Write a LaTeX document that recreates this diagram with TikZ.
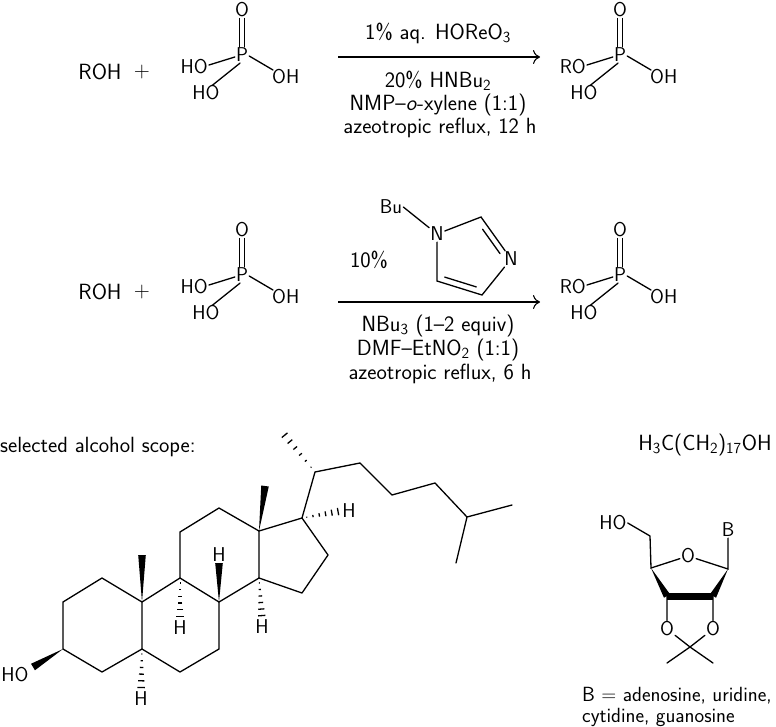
\documentclass[tikz,border=0pt]{standalone}
\usepackage{tikz}
\usetikzlibrary{calc,arrows.meta,positioning}
\renewcommand{\familydefault}{\sfdefault}

\tikzset{
  every node/.style={font=\fontsize{22}{26}\selectfont},
  atom/.style={inner sep=1pt,font=\fontsize{20}{24}\selectfont},
  bond/.style={line width=1.3pt,line cap=round},
  rxnarrow/.style={line width=1.1pt,-{To[length=7pt,width=14pt]}}
}
% wedge: narrow at #1, wide at #2
\newcommand{\wedgebond}[2]{%
  \fill ($(#1)$) -- ($(#2)!3.8pt!90:(#1)$) -- ($(#2)!3.8pt!-90:(#1)$) -- cycle;}
% hashed: narrow at #1, wide at #2
\newcommand{\hashbond}[2]{%
  \foreach \t in {0.12,0.28,...,1.0} {
    \pgfmathsetmacro{\hw}{4*\t}
    \coordinate (hp) at ($(#1)!\t!(#2)$);
    \draw[line width=1.3pt] ($(hp)!\hw pt!90:(#2)$) -- ($(hp)!\hw pt!-90:(#2)$);
  }}
% phosphoric acid / monoester
\newcommand{\phos}[3]{%
  \begin{scope}[shift={#2}]
    \node[atom] (#1P) at (0,0) {P};
    \node[atom] (#1O) at (0,-45) {O};
    \node[atom,anchor=east] (#1L) at (-33,12) {#3};
    \node[atom,anchor=west] (#1R) at (29,22) {OH};
    \node[atom] (#1B) at (-36,38) {HO};
    \draw[bond] ($(#1P.north)+(-2.5,0)$) -- ($(#1O.south)+(-2.5,0)$)
                ($(#1P.north)+(2.5,0)$) -- ($(#1O.south)+(2.5,0)$);
    \draw[bond] ($(#1P.west)+(0,2)$) -- ($(#1L.east)+(0,-2)$);
    \draw[bond] ($(#1P.east)+(0,1)$) -- ($(#1R.west)+(2,-7)$);
    \draw[bond] ($(#1P.south)+(-2,0)$) -- ($(#1B.north)+(6,1)$);
  \end{scope}}

\begin{document}
\begin{tikzpicture}[x=1pt,y=-1pt]
  \useasboundingbox (0,0) rectangle (776,726);

  % first reaction
  \node (roh1) at (100,72) {ROH};
  \node (plus1) at (142,72) {+};
  \phos{a}{(242,55)}{HO}
  \coordinate (s1) at (338,57);
  \coordinate (e1) at (540,57);
  \draw[rxnarrow] (s1) -- (e1);
  \node (c1a) at (438,33) {1\% aq. HOReO\textsubscript{3}};
  \node (c1b) at (438,81) {20\% HNBu\textsubscript{2}};
  \node (c1c) at (438,105) {NMP--\textsl{o}-xylene (1:1)};
  \node (c1d) at (440,128) {azeotropic reflux, 12 h};
  \phos{b}{(620,55)}{RO}

  % second reaction
  \node (roh2) at (100,292) {ROH};
  \node (plus2) at (142,292) {+};
  \phos{c}{(242,275)}{HO}
  \coordinate (s2) at (338,302);
  \coordinate (e2) at (540,302);
  \draw[rxnarrow] (s2) -- (e2);
  \node (cat) at (369,260) {10\%};
  \node[atom] (bu) at (391,207) {Bu};
  \node[atom] (n1) at (437,234) {N};
  \coordinate (c2) at (481,217);
  \node[atom] (n3) at (511,259) {N};
  \coordinate (c4) at (482,295);
  \coordinate (c5) at (437,281);
  \draw[bond] (bu.east) -- (n1) (n1) -- (c2) -- (n3) -- (c4) -- (c5) -- (n1);
  \draw[bond] ($(c2)!0.22!(n3)+(-5,3)$) -- ($(c2)!0.8!(n3)+(-5,3)$);
  \draw[bond] ($(c5)!0.15!(c4)+(1,-6)$) -- ($(c5)!0.85!(c4)+(1,-6)$);
  \node (c2a) at (438,326) {NBu\textsubscript{3} (1--2 equiv)};
  \node (c2b) at (438,350) {DMF--EtNO\textsubscript{2} (1:1)};
  \node (c2c) at (440,374) {azeotropic reflux, 6 h};
  \phos{d}{(620,275)}{RO}

  % scope
  \node[anchor=west,inner sep=0pt] (scope) at (0,447) {selected alcohol scope:};
  \node (octa) at (705,445) {H\textsubscript{3}C(CH\textsubscript{2})\textsubscript{17}OH};

  % cholesterol skeleton
  \coordinate (k1) at (102,578); \coordinate (k2) at (63,602);
  \coordinate (k3) at (63,649);  \coordinate (k4) at (102,672);
  \coordinate (k5) at (142,649); \coordinate (k10) at (142,602);
  \coordinate (k6) at (180,672); \coordinate (k7) at (219,649);
  \coordinate (k8) at (219,602); \coordinate (k9) at (180,578);
  \coordinate (k11) at (180,532); \coordinate (k12) at (219,508);
  \coordinate (k13) at (259,531); \coordinate (k14) at (259,578);
  \coordinate (k15) at (302,593); \coordinate (k16) at (328,555);
  \coordinate (k17) at (302,518); \coordinate (k20) at (315,472);
  \coordinate (k21) at (282,432); \coordinate (k22) at (360,463);
  \coordinate (k23) at (392,495); \coordinate (k24) at (435,483);
  \coordinate (k25) at (467,517); \coordinate (k26) at (512,505);
  \coordinate (k27) at (456,563);
  \draw[bond,line join=round] (k10) -- (k1) -- (k2) -- (k3) -- (k4) -- (k5) -- (k10) -- (k9) -- (k8) -- (k7) -- (k6) -- (k5);
  \draw[bond,line join=round] (k9) -- (k11) -- (k12) -- (k13) -- (k14) -- (k8);
  \draw[bond,line join=round] (k13) -- (k17) -- (k16) -- (k15) -- (k14);
  \draw[bond,line join=round] (k17) -- (k20) -- (k22) -- (k23) -- (k24) -- (k25) -- (k26) (k25) -- (k27);
  \node[atom] (ho) at (15,675) {HO};
  \coordinate (hoend) at (33,667);
  \wedgebond{k3}{hoend}
  \coordinate (me19) at (142,555); \wedgebond{k10}{me19}
  \coordinate (me18) at (265,486); \wedgebond{k13}{me18}
  \node[atom] (h5) at (141,699) {H};   \hashbond{k5}{h5.north}
  \node[atom] (h9) at (180,628) {H};   \hashbond{k9}{h9.north}
  \node[atom] (h8) at (219,555) {H};   \wedgebond{k8}{h8.south}
  \node[atom] (h14) at (262,627) {H};  \hashbond{k14}{h14.north}
  \node[atom] (h17) at (349,511) {H};  \hashbond{k17}{h17.west}
  \hashbond{k20}{k21}

  % protected nucleoside
  \node[atom] (rho) at (613,523) {HO};
  \coordinate (r5) at (650,536);
  \coordinate (r4) at (651,568);
  \node[atom] (ro) at (688,556) {O};
  \coordinate (r1) at (728,569);
  \node[atom] (rb) at (728,530) {B};
  \coordinate (r3) at (667,596);
  \coordinate (r2) at (713,596);
  \node[atom] (ro3) at (667,629) {O};
  \node[atom] (ro2) at (713,629) {O};
  \coordinate (rk) at (690,647);
  \coordinate (rm1) at (667,663);
  \coordinate (rm2) at (713,663);
  \draw[bond] (rho.east) -- (r5) -- (r4) -- (ro) -- (r1) -- (rb);
  \fill (r4) -- ($(r3)!3.5pt!90:(r4)$) -- ($(r3)!3.5pt!-90:(r4)$) -- cycle;
  \fill (r1) -- ($(r2)!3.5pt!90:(r1)$) -- ($(r2)!3.5pt!-90:(r1)$) -- cycle;
  \draw[line width=7pt] (r3) -- (r2);
  \draw[bond] (r3) -- (ro3) -- (rk) (r2) -- (ro2) -- (rk);
  \draw[bond] (rm1) -- (rk) -- (rm2);
  \node[anchor=west,inner sep=0pt,font=\fontsize{20.5}{24}\selectfont] (blist1) at (582,696) {B = adenosine, uridine,};
  \node[anchor=west,inner sep=0pt,font=\fontsize{20.5}{24}\selectfont] (blist2) at (582,717) {cytidine, guanosine};
\end{tikzpicture}
\end{document}
